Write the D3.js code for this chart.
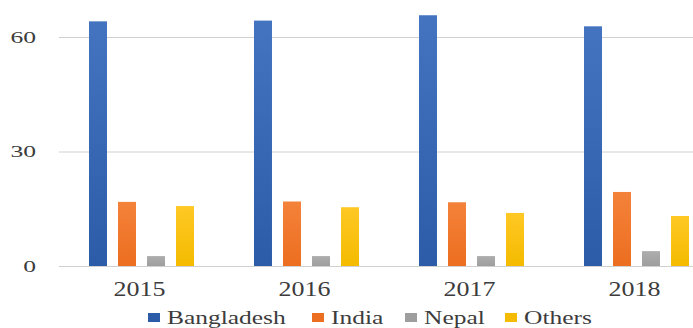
<!DOCTYPE html>
<html>
<head>
<meta charset="utf-8">
<script src="https://cdn.jsdelivr.net/npm/d3@7"></script>
<style>
  html, body { margin: 0; padding: 0; background: #fff; }
</style>
</head>
<body>
<svg id="chart" width="693" height="328"></svg>
<script>
// data
const years = ['2015', '2016', '2017', '2018'];
const seriesNames = ['Bangladesh', 'India', 'Nepal', 'Others'];
const bangladesh = [64.1, 64.3, 65.7, 62.8];
const india = [16.8, 16.9, 16.7, 19.4];
const nepal = [2.6, 2.6, 2.6, 3.9];
const others = [15.7, 15.4, 13.9, 13.1];
const yTicks = [0, 30, 60];

const seriesValues = [bangladesh, india, nepal, others];
const colors = [
  ['#4474c0', '#2c5ca8'],
  ['#f4823a', '#ec6e20'],
  ['#adadad', '#9e9e9e'],
  ['#ffc824', '#f4bb00']
];
const serif = "'Liberation Serif'";

const svg = d3.select('#chart');
const width = 693, height = 328;

// plot area runs past the right edge, like the cropped original
const x0 = d3.scaleBand().domain(years).range([59, 719]).padding(0);
const x1 = d3.scaleBand().domain(seriesNames).range([30, 135]).paddingInner(0.38).paddingOuter(0);
const y = d3.scaleLinear().domain([0, 60]).range([266, 37]);

// gradients for the bars
const defs = svg.append('defs');
colors.forEach((c, i) => {
  const g = defs.append('linearGradient')
    .attr('id', 'grad' + i)
    .attr('x1', 0).attr('y1', 0).attr('x2', 0).attr('y2', 1);
  g.append('stop').attr('offset', '0%').attr('stop-color', c[0]);
  g.append('stop').attr('offset', '100%').attr('stop-color', c[1]);
});

// gridlines
svg.append('g')
  .attr('transform', 'translate(59,0)')
  .call(d3.axisLeft(y).tickValues(yTicks).tickSize(-(width - 59)).tickFormat(''))
  .call(g => g.select('.domain').remove())
  .call(g => g.selectAll('line').attr('stroke', '#d0d0d0').attr('stroke-width', 1));

// y labels
const sxY = 1.6;
svg.append('g')
  .attr('transform', 'translate(59,0)')
  .call(d3.axisLeft(y).tickValues(yTicks).tickSize(0).tickPadding(0))
  .call(g => g.select('.domain').remove())
  .call(g => g.selectAll('text')
    .attr('x', -23 / sxY)
    .attr('transform', `scale(${sxY},1)`)
    .style('font-family', serif)
    .style('font-size', '16px')
    .attr('fill', '#3c3c3c'));

// bars
const groups = svg.append('g')
  .selectAll('g')
  .data(years)
  .join('g')
  .attr('transform', d => `translate(${x0(d)},0)`);

groups.selectAll('rect')
  .data((d, yi) => seriesNames.map((s, si) => ({ s, si, v: seriesValues[si][yi] })))
  .join('rect')
  .attr('x', d => x1(d.s))
  .attr('y', d => y(d.v))
  .attr('width', x1.bandwidth())
  .attr('height', d => y(0) - y(d.v))
  .attr('fill', d => `url(#grad${d.si})`);

// year labels, centred under each group
const sxX = 1.3;
svg.append('g')
  .attr('transform', `translate(-2,${y(0)})`)
  .call(d3.axisBottom(x0).tickSize(0).tickPadding(16))
  .call(g => g.select('.domain').remove())
  .call(g => g.selectAll('text')
    .attr('transform', `scale(${sxX},1)`)
    .style('font-family', serif)
    .style('font-size', '20px')
    .attr('fill', '#3c3c3c'));

// legend
const sxL = 1.34;
const legendStarts = [148, 312, 405, 505];
const legend = svg.append('g').attr('transform', 'translate(0,324)');
const items = legend.selectAll('g')
  .data(seriesNames)
  .join('g')
  .attr('transform', (d, i) => `translate(${legendStarts[i]},0)`);
items.append('rect')
  .attr('x', 0).attr('y', -11)
  .attr('width', 12).attr('height', 9)
  .attr('fill', (d, i) => colors[i][1]);
items.append('text')
  .attr('transform', 'translate(19,0) scale(' + sxL + ',1)')
  .style('font-family', serif)
  .style('font-size', '19px')
  .attr('fill', '#3c3c3c')
  .text(d => d);
</script>
</body>
</html>
